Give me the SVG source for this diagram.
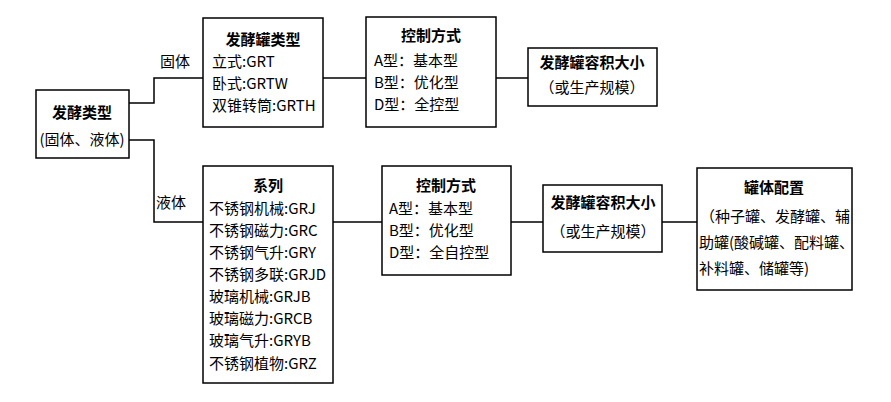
<svg xmlns="http://www.w3.org/2000/svg" width="891" height="402" viewBox="0 0 891 402">
<style>
rect{fill:#fff;stroke:#000;stroke-width:1.5}
line,polyline{stroke:#000;stroke-width:1.5;fill:none}
text{font-family:"Noto Sans CJK SC","Liberation Serif",serif;font-size:15px;fill:#000}
.b{font-weight:bold;font-size:15px}
.m{text-anchor:middle}
</style>
<rect x="0" y="0" width="891" height="402" style="fill:#fff;stroke:none"/>
<g id="connectors">
<polyline points="129,103 154,103 154,78 203,78"/>
<polyline points="129,140 154,140 154,222 203,222"/>
<line x1="323" y1="78" x2="366" y2="78"/>
<line x1="496" y1="78" x2="528" y2="78"/>
<line x1="333" y1="222" x2="382" y2="222"/>
<line x1="511" y1="222" x2="543" y2="222"/>
<line x1="662" y1="222" x2="697" y2="222"/>
<text x="160" y="67">固体</text>
<text x="156" y="208">液体</text>
</g>
<g id="root"><rect x="36" y="90" width="93" height="68"/>
<text class="b m" x="82" y="118">发酵类型</text><text class="m" x="82" y="145">(固体、液体)</text></g>
<g id="tank"><rect x="203" y="18" width="120" height="109"/>
<text class="b m" x="263" y="45">发酵罐类型</text>
<text x="212" y="67">立式:GRT</text><text x="212" y="89">卧式:GRTW</text><text x="212" y="111">双锥转筒:GRTH</text></g>
<g id="ctrl1"><rect x="366" y="17" width="130" height="110"/>
<text class="b m" x="431" y="41">控制方式</text>
<text x="374" y="66">A型：基本型</text><text x="374" y="88">B型：优化型</text><text x="374" y="110">D型：全控型</text></g>
<g id="vol1"><rect x="528" y="48" width="129" height="58"/>
<text class="b m" x="592" y="68">发酵罐容积大小</text><text class="m" x="592" y="93">（或生产规模）</text></g>
<g id="series"><rect x="203" y="166" width="130" height="217"/>
<text class="b m" x="268" y="191">系列</text>
<text x="209" y="214">不锈钢机械:GRJ</text><text x="209" y="236">不锈钢磁力:GRC</text><text x="209" y="258">不锈钢气升:GRY</text><text x="209" y="280">不锈钢多联:GRJD</text><text x="209" y="302">玻璃机械:GRJB</text><text x="209" y="324">玻璃磁力:GRCB</text><text x="209" y="346">玻璃气升:GRYB</text><text x="209" y="369">不锈钢植物:GRZ</text></g>
<g id="ctrl2"><rect x="382" y="166" width="129" height="109"/>
<text class="b m" x="446" y="191">控制方式</text>
<text x="389" y="214">A型：基本型</text><text x="389" y="236">B型：优化型</text><text x="389" y="258">D型：全自控型</text></g>
<g id="vol2"><rect x="543" y="185" width="119" height="67"/>
<text class="b m" x="603" y="208">发酵罐容积大小</text><text class="m" x="603" y="237">（或生产规模）</text></g>
<g id="config"><rect x="697" y="168" width="155" height="122"/>
<text class="b m" x="774" y="193">罐体配置</text>
<text x="700" y="222">（种子罐、发酵罐、辅</text><text x="699" y="248">助罐(酸碱罐、配料罐、</text><text x="699" y="274">补料罐、储罐等)</text></g>
</svg>
